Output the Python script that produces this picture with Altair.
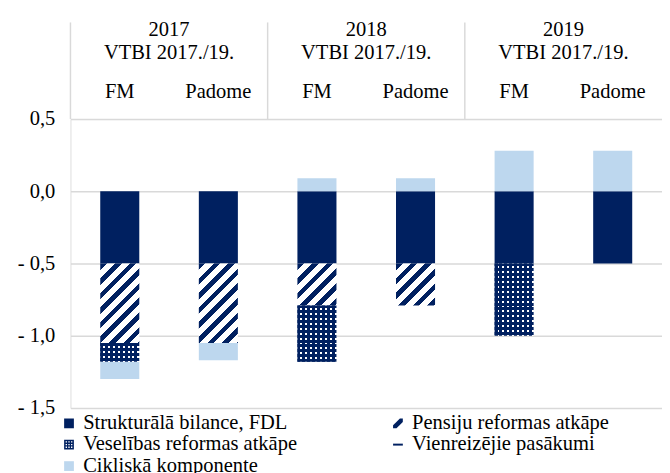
import math
import altair as alt
import pandas as pd

# ---------------- data ----------------
YEARS = ["2017", "2017", "2018", "2018", "2019", "2019"]
SOURCES = ["FM", "Padome", "FM", "Padome", "FM", "Padome"]
HEADER_SUB = "VTBI 2017./19."
SERIES = [
    "Strukturālā bilance, FDL",
    "Pensiju reformas atkāpe",
    "Veselības reformas atkāpe",
    "Vienreizējie pasākumi",
    "Cikliskā komponente",
]
STRUKT = [-0.50, -0.50, -0.50, -0.50, -0.50, -0.50]
PENSIJU = [-0.55, -0.55, -0.29, -0.29, 0.0, 0.0]
VESEL = [-0.13, 0.0, -0.39, 0.0, -0.50, 0.0]
VIENR = [0.0, 0.0, 0.0, 0.0, 0.0, 0.0]
CIKL = [-0.12, -0.12, 0.09, 0.09, 0.28, 0.28]
Y_TICKS = [-1.5, -1.0, -0.5, 0.0, 0.5]

VALUES = [STRUKT, PENSIJU, VESEL, VIENR, CIKL]
KEYS = [YEARS[i] + "|" + SOURCES[i] for i in range(len(YEARS))]
rows = []
for i in range(len(YEARS)):
    for k, s in enumerate(SERIES):
        v = VALUES[k][i]
        if v != 0:
            rows.append({"key": KEYS[i], "year": YEARS[i], "src": SOURCES[i],
                         "series": s, "order": k, "value": v})
df = pd.DataFrame(rows)

# ---------------- style ----------------
FONT = "Liberation Serif"
FS = 21
NAVY = "#002060"
LIGHT = "#bdd7ee"
GRID = "#d9d9d9"
STEP = 101
PLOT_W = STEP * len(KEYS)
PLOT_H = 296
Y_DOM = [-1.5, 0.5]
PX_PER_UNIT = PLOT_H / (Y_DOM[1] - Y_DOM[0])
BAR_W = 40


def stripe_stops(n, frac, dark, light):
    stops = []
    k = int(math.ceil(n))
    for i in range(k):
        a = i / n
        b = min((i + frac) / n, 1.0)
        c = min((i + 1) / n, 1.0)
        if a >= 1.0:
            break
        stops += [{"offset": a, "color": dark}, {"offset": b, "color": dark},
                  {"offset": b, "color": light}, {"offset": c, "color": light}]
    return stops


def diag_gradient(h, w=BAR_W, period=10.6, frac=0.45):
    L = (w * w + h * h) / (w + h)
    n = (w + h) / (period * math.sqrt(2))
    return {"gradient": "linear", "x1": 0, "y1": 0, "x2": w / L, "y2": h / L,
            "stops": stripe_stops(n, frac, NAVY, "#ffffff")}


def col_gradient(w=BAR_W, period=5.0):
    return {"gradient": "linear", "x1": 0, "y1": 0, "x2": 1, "y2": 0,
            "stops": stripe_stops(w / period, 0.6, NAVY, "#ffffff")}


def row_gradient(h, period=5.0):
    return {"gradient": "linear", "x1": 0, "y1": 0, "x2": 0, "y2": 1,
            "stops": stripe_stops(h / period, 0.6, NAVY, "rgba(0,32,96,0)")}


label_expr = ("datum.value < 0 ? '- ' + replace(format(-datum.value, '.1f'), '.', ',') "
              ": replace(format(datum.value, '.1f'), '.', ',')")

X = alt.X("key:N", title=None, axis=None,
          scale=alt.Scale(domain=KEYS, paddingInner=0, paddingOuter=0))
Y = alt.Y("v0:Q", title=None,
          scale=alt.Scale(domain=Y_DOM, nice=False, zero=False),
          axis=alt.Axis(values=Y_TICKS, labelExpr=label_expr, ticks=False, domain=False,
                        grid=True, gridColor=GRID, gridWidth=1.5,
                        labelFont=FONT, labelFontSize=FS, labelColor="#000000",
                        labelPadding=16))


def stacked():
    return alt.Chart().transform_stack(
        stack="value", groupby=["key"], as_=["v0", "v1"],
        sort=[alt.SortField("order", order="ascending")])


layers = []
# solid series
layers.append(stacked().transform_filter(alt.datum.series == SERIES[0])
              .mark_bar(color=NAVY, width=BAR_W).encode(x=X, y=Y, y2="v1:Q"))
layers.append(stacked().transform_filter(alt.datum.series == SERIES[4])
              .mark_bar(color=LIGHT, width=BAR_W).encode(x=X, y=Y, y2="v1:Q"))

# patterned segments
cond = "datum.key == '%s' && datum.series == '%s'"
for i in range(len(KEYS)):
    v = PENSIJU[i]
    if v != 0:
        h = abs(v) * PX_PER_UNIT
        layers.append(stacked().transform_filter(cond % (KEYS[i], SERIES[1]))
                      .mark_bar(color=diag_gradient(h), width=BAR_W)
                      .encode(x=X, y=Y, y2="v1:Q"))
    v = VESEL[i]
    if v != 0:
        h = abs(v) * PX_PER_UNIT
        layers.append(stacked().transform_filter(cond % (KEYS[i], SERIES[2]))
                      .mark_bar(color=col_gradient(), width=BAR_W)
                      .encode(x=X, y=Y, y2="v1:Q"))
        layers.append(stacked().transform_filter(cond % (KEYS[i], SERIES[2]))
                      .mark_bar(color=row_gradient(h), width=BAR_W)
                      .encode(x=X, y=Y, y2="v1:Q"))

# header: separators and labels
first_of_group = (alt.datum.series == SERIES[0]) & (alt.datum.src == "FM")
layers.append(alt.Chart().transform_filter(first_of_group)
              .mark_rule(color=GRID, strokeWidth=1.5)
              .encode(x=alt.X("key:N", bandPosition=0), y=alt.value(-99), y2=alt.value(0)))
txt = dict(font=FONT, fontSize=FS, color="#000000", baseline="middle", align="center")
layers.append(alt.Chart().transform_filter(first_of_group).mark_text(**txt)
              .encode(x=alt.X("key:N", bandPosition=1), y=alt.value(-91), text="year:N"))
layers.append(alt.Chart().transform_filter(first_of_group).mark_text(**txt)
              .encode(x=alt.X("key:N", bandPosition=1), y=alt.value(-68),
                      text=alt.value(HEADER_SUB)))
layers.append(alt.Chart().transform_filter(alt.datum.series == SERIES[0]).mark_text(**txt)
              .encode(x=alt.X("key:N"), y=alt.value(-28), text="src:N"))

# legend carrier
holes = ""
for cy in (-0.55, 0.0, 0.55):
    for cx in (-0.55, 0.0, 0.55):
        s = 0.14
        holes += " M %.2f %.2f V %.2f H %.2f V %.2f Z" % (cx - s, cy - s, cy + s, cx + s, cy - s)
LEG_SHAPES = [
    "square",
    "M -1 1 L -0.3 1 L 1 -0.3 L 1 -1 L 0.4 -1 L -1 0.4 Z",
    "M -1 -1 H 1 V 1 H -1 Z" + holes,
    "M -1 -0.2 H 1 V 0.2 H -1 Z",
    "square",
]
LEG_COLORS = [NAVY, NAVY, NAVY, NAVY, LIGHT]
layers.append(alt.Chart().transform_filter("false").mark_point(filled=True, opacity=1)
              .encode(
                  color=alt.Color("series:N", scale=alt.Scale(domain=SERIES, range=LEG_COLORS),
                                  legend=alt.Legend(title=None, orient="none", legendX=-12,
                                                    legendY=301, columns=2, columnPadding=92,
                                                    direction="horizontal",
                                                    rowPadding=0, labelFont=FONT,
                                                    labelFontSize=21, labelColor="#000000",
                                                    labelLimit=0, labelOffset=4,
                                                    symbolSize=100, symbolStrokeWidth=0)),
                  shape=alt.Shape("series:N", scale=alt.Scale(domain=SERIES, range=LEG_SHAPES))))

chart = alt.layer(*layers, data=df).properties(
    width=PLOT_W, height=PLOT_H,
    padding={"left": 9, "top": 6, "right": 0, "bottom": 0},
).configure_view(stroke=None).configure(font=FONT)

chart.save("out.html", embed_options={"renderer": "svg", "actions": False})
